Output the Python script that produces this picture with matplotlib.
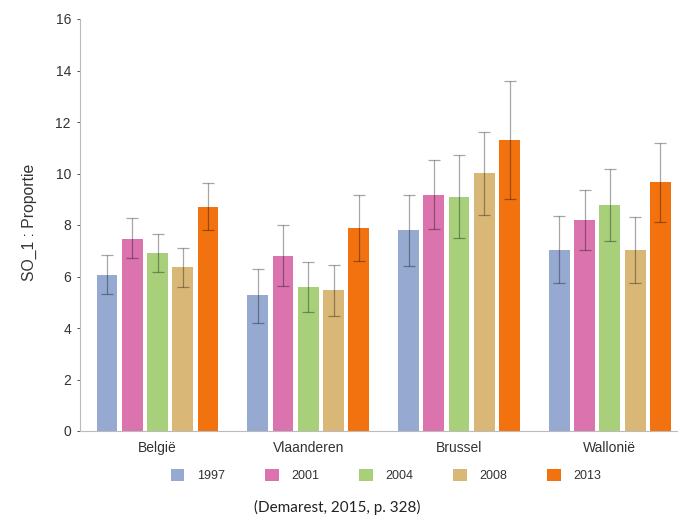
import numpy as np
import matplotlib.pyplot as plt
from matplotlib.patches import Patch

plt.rcParams['font.family'] = ['Liberation Sans', 'DejaVu Sans']

regions = ['België', 'Vlaanderen', 'Brussel', 'Wallonië']
years = ['1997', '2001', '2004', '2008', '2013']
colors = ['#95a9d1', '#db73ae', '#a8d07b', '#d9b877', '#f2720f']

# proportions per year, one value per region
values = {
    '1997': [6.07, 5.28, 7.79, 7.04],
    '2001': [7.47, 6.81, 9.18, 8.21],
    '2004': [6.92, 5.60, 9.10, 8.79],
    '2008': [6.36, 5.48, 10.01, 7.03],
    '2013': [8.71, 7.90, 11.29, 9.67],
}
lower = {
    '1997': [5.32, 4.21, 6.41, 5.74],
    '2001': [6.72, 5.63, 7.83, 7.03],
    '2004': [6.17, 4.63, 7.50, 7.39],
    '2008': [5.58, 4.47, 8.39, 5.74],
    '2013': [7.80, 6.62, 9.00, 8.10],
}
upper = {
    '1997': [6.83, 6.28, 9.18, 8.35],
    '2001': [8.26, 7.99, 10.51, 9.37],
    '2004': [7.66, 6.57, 10.71, 10.17],
    '2008': [7.10, 6.45, 11.60, 8.30],
    '2013': [9.62, 9.15, 13.58, 11.20],
}

fig = plt.figure(figsize=(6.78, 5.22), dpi=100)
ax = fig.add_axes([80 / 678, 91 / 522, 598 / 678, 412 / 522])

x = np.arange(len(regions))
step = 0.1675
width = 0.138
for i, yr in enumerate(years):
    pos = x + (i - 2) * step
    v = np.array(values[yr])
    err = [v - np.array(lower[yr]), np.array(upper[yr]) - v]
    ax.bar(pos, v, width, color=colors[i], zorder=2)
    ax.errorbar(pos, v, yerr=err, fmt='none', ecolor='black', alpha=0.35,
                elinewidth=0.9, capsize=4, capthick=0.9, zorder=3)

ax.set_xlim(-0.514, 3.452)
ax.set_ylim(0, 16)
ax.set_yticks(np.arange(0, 17, 2))
ax.set_xticks(x)
ax.set_xticklabels(regions, fontsize=10, color='#333333')
ax.tick_params(axis='y', labelsize=10, colors='#333333', length=2.5, width=0.6, pad=4)
ax.tick_params(axis='x', length=0, pad=7)
for s in ['top', 'right']:
    ax.spines[s].set_visible(False)
for s in ['left', 'bottom']:
    ax.spines[s].set_color('#bbbbbb')
    ax.spines[s].set_linewidth(0.8)

ax.set_ylabel('SO_1 : Proportie', fontsize=11.3, color='#333333')
ax.yaxis.set_label_coords(-0.072, 0.506)

handles = [Patch(facecolor=c, edgecolor='none') for c in colors]
fig.legend(handles, years, loc='center', bbox_to_anchor=(386 / 678, 1 - 475.5 / 522),
           ncol=5, frameon=False, fontsize=9, handlelength=1.1, handleheight=1.1,
           handletextpad=1.0, columnspacing=3.2, labelcolor='#333333')

fig.text(337 / 678, 1 - 507 / 522, '(Demarest, 2015, p. 328)', ha='center', va='center',
         fontsize=11, family='Lato', color='#222222')

fig.savefig('out.png', dpi=100)
